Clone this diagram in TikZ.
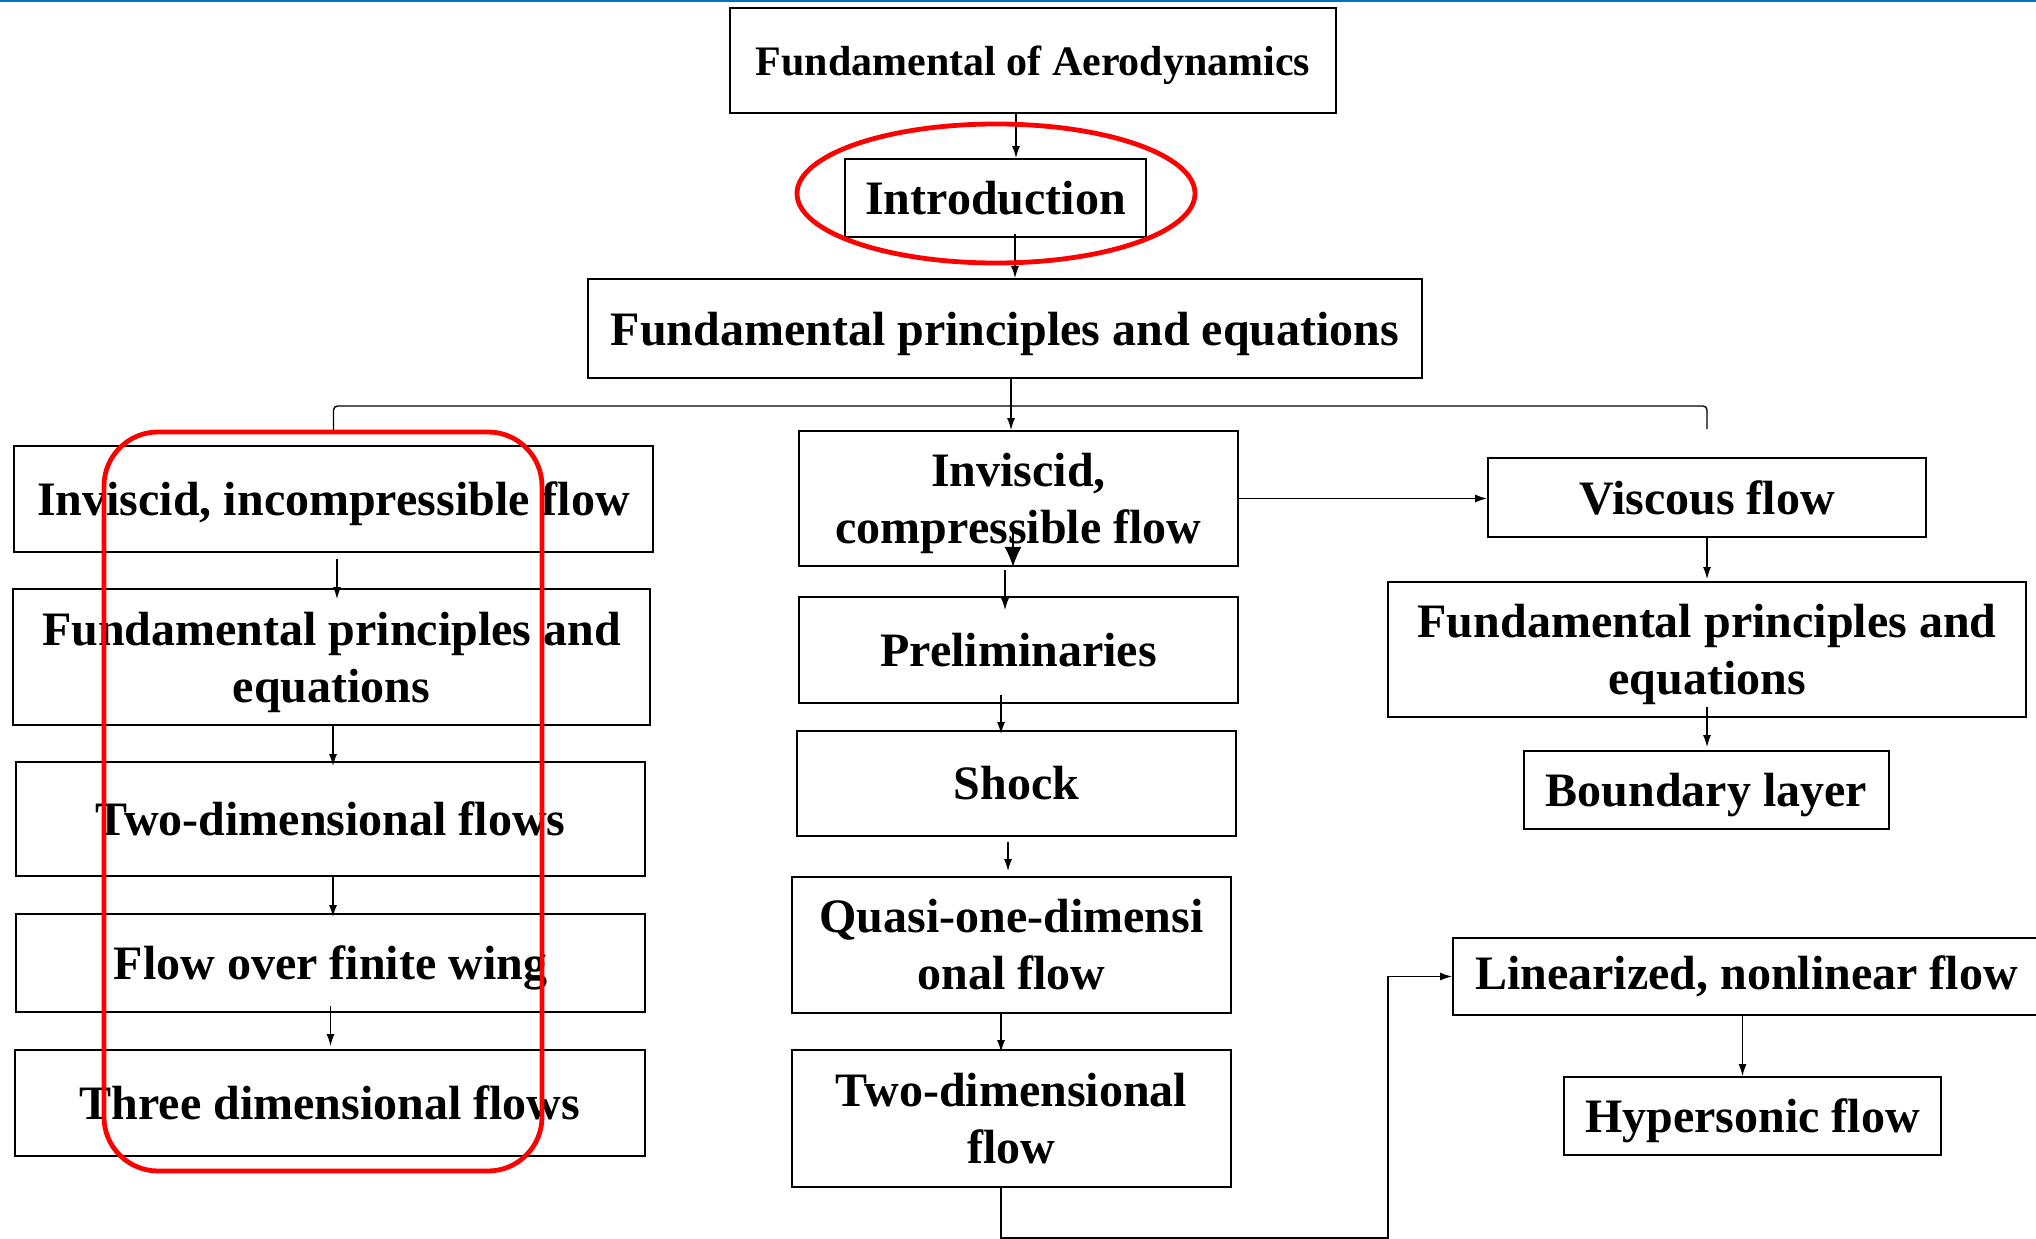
\documentclass[tikz,border=0pt]{standalone}
\usepackage{fontspec}
\setmainfont{Liberation Serif}
\usetikzlibrary{arrows.meta}
\definecolor{markred}{HTML}{FF0000}
\definecolor{rule}{HTML}{0070C0}
\newcommand{\lowstrut}{\rule{0pt}{0.92em}}

\begin{document}
\begin{tikzpicture}[x=0.5bp,y=-0.5bp,
    box/.style={draw,line width=0.9bp,inner sep=0pt,align=center,font=\bfseries\fontsize{24bp}{28.5bp}\selectfont},
    arr/.style={line width=0.7bp,-{Latex[length=6bp,width=4bp]}},
    bigarr/.style={line width=0.7bp,-{Latex[length=10bp,width=8.5bp]}},
    redmark/.style={draw=markred,line width=2.4bp}]
      \useasboundingbox (0,0) rectangle (2036,1239);
      \draw[rule,line width=0.8bp] (0,1) -- (2036,1);
      % top of the tree
      \node[box,minimum width=303bp,minimum height=52.5bp,font=\bfseries\fontsize{21bp}{25bp}\selectfont] (top) at (1033,60.5) {\lowstrut Fundamental of Aerodynamics};
      \node[box,minimum width=150.5bp,minimum height=39bp] (intro) at (995.5,198) {Introduction};
      \node[box,minimum width=417bp,minimum height=49.5bp] (fpe) at (1005,328.5) {\lowstrut Fundamental principles and equations};
      % left column
      \node[box,minimum width=319.5bp,minimum height=53bp] (incomp) at (333.5,499) {\lowstrut Inviscid, incompressible flow};
      \node[box,minimum width=318.5bp,minimum height=68bp] (incompfpe) at (331.5,657) {\lowstrut Fundamental principles and\\equations};
      \node[box,minimum width=314.5bp,minimum height=57bp] (twodim) at (330.5,819) {Two-dimensional flows};
      \node[box,minimum width=314.5bp,minimum height=49bp] (finwing) at (330.5,963) {\lowstrut Flow over finite wing};
      \node[box,minimum width=315bp,minimum height=53bp] (threedim) at (330,1103) {Three dimensional flows};
      % middle column
      \node[box,minimum width=219.5bp,minimum height=67.5bp] (comp) at (1018.5,498.5) {\lowstrut Inviscid,\\compressible flow};
      \node[box,minimum width=219.5bp,minimum height=53bp] (prelim) at (1018.5,650) {Preliminaries};
      \node[box,minimum width=219.5bp,minimum height=52.5bp] (shock) at (1016.5,783.5) {Shock};
      \node[box,minimum width=219.5bp,minimum height=68bp] (quasi) at (1011.5,945) {Quasi-one-dimensi\\onal flow};
      \node[box,minimum width=219.5bp,minimum height=68.5bp] (twodimc) at (1011.5,1118.5) {Two-dimensional\\flow};
      % right column
      \node[box,minimum width=219bp,minimum height=39.5bp] (viscous) at (1707,497.5) {Viscous flow};
      \node[box,minimum width=319bp,minimum height=67.5bp] (viscfpe) at (1707,649.5) {\lowstrut Fundamental principles and\\equations};
      \node[box,minimum width=182.5bp,minimum height=39bp] (blayer) at (1706.5,790) {\lowstrut Boundary layer};
      \node[box,minimum width=293.5bp,minimum height=38.5bp] (linear) at (1746.5,976.5) {Linearized, nonlinear flow};
      \node[box,minimum width=188.5bp,minimum height=39bp] (hyper) at (1752.5,1116) {\lowstrut Hypersonic flow};
      \coordinate (split) at (1011,406);
      \coordinate (bend) at (1388,1238);
      % connectors
      \draw[arr] ([xshift=-8.5bp]top.south) -- ([xshift=-8.5bp]top.south |- intro.north);
      \draw[arr] ([xshift=9.75bp,yshift=2bp]intro.south) -- ([xshift=9.75bp]intro.south |- fpe.north);
      \draw[arr] ([xshift=3bp]fpe.south) -- ([xshift=3bp]fpe.south |- comp.north);
      \draw[line width=0.7bp,rounded corners=2bp] ([yshift=7bp]incomp.north) -- (incomp.north |- split) -- (viscous.north |- split) -- ([yshift=14bp]viscous.north);
      \draw[arr] ([xshift=1.75bp,yshift=-3bp]incomp.south) -- ([xshift=1.75bp,yshift=-5.5bp]incomp.south |- incompfpe.north);
      \draw[arr] ([xshift=0.75bp]incompfpe.south) -- ([xshift=0.75bp,yshift=-2.5bp]incompfpe.south |- twodim.north);
      \draw[arr] ([xshift=1.25bp]twodim.south) -- ([xshift=1.25bp,yshift=-2bp]twodim.south |- finwing.north);
      \draw[arr] ([yshift=3.5bp]finwing.south) -- ([yshift=1.5bp]finwing.south |- threedim.north);
      \draw[bigarr] ([xshift=-2.75bp,yshift=22bp]comp.south) -- ([xshift=-2.75bp]comp.south);
      \draw[arr] ([xshift=-6.75bp,yshift=-1.5bp]comp.south) -- ([xshift=-6.75bp,yshift=-7bp]comp.south |- prelim.north);
      \draw[arr] ([xshift=-8.75bp,yshift=4.5bp]prelim.south) -- ([xshift=-8.75bp,yshift=-2bp]prelim.south |- shock.north);
      \draw[arr] ([xshift=-4.25bp,yshift=-2.5bp]shock.south) -- ([xshift=-4.25bp,yshift=2.5bp]shock.south |- quasi.north);
      \draw[arr] ([xshift=-5.25bp]quasi.south) -- ([xshift=-5.25bp,yshift=-1.5bp]quasi.south |- twodimc.north);
      \draw[arr] ([xshift=-5.25bp]twodimc.south) |- (bend) |- (linear.west);
      \draw[arr] (comp.east) -- (comp.east -| viscous.west);
      \draw[arr] (viscous.south) -- ([yshift=1bp]viscfpe.north);
      \draw[arr] ([yshift=5.5bp]viscfpe.south) -- ([yshift=1.5bp]viscfpe.south |- blayer.north);
      \draw[arr] ([xshift=-2bp]linear.south) -- ([xshift=-2bp]linear.south |- hyper.north);
      % red highlights
      \draw[redmark] (996,193.5) ellipse [x radius=99.5bp,y radius=34.75bp];
      \draw[redmark,rounded corners=27bp] (104,432) rectangle (542,1171);
\end{tikzpicture}
\end{document}
